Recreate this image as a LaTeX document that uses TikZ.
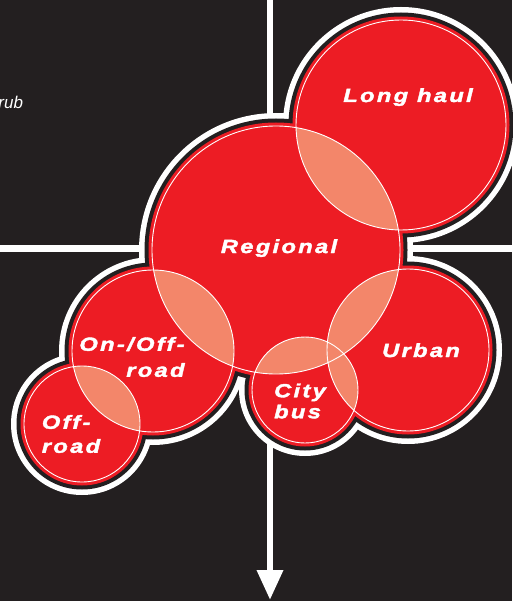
\documentclass[tikz,border=0pt]{standalone}
\usepackage{fontspec}
\setmainfont{Liberation Sans}
\newfontfamily\tagfont[LetterSpace=12, FakeStretch=1.25, FakeBold=2]{Liberation Sans Bold Italic}
\usetikzlibrary{arrows.meta}
\definecolor{board}{RGB}{35,31,32}
\definecolor{segred}{RGB}{237,28,36}
\definecolor{lensfill}{RGB}{243,134,106}
\def\lens(#1:#2)(#3:#4){\begin{scope}\clip (#1) circle (#2pt); \fill[lensfill] (#3) circle (#4pt);\end{scope}}
\tikzset{tag/.style={text=white, inner sep=0pt, font=\tagfont\fontsize{19}{26}\selectfont}}

\begin{document}
\begin{tikzpicture}[x=1pt, y=-1pt]
			%%%%% START %%%%%
			\useasboundingbox (0, 0) rectangle (512, 601);
			\fill[color=board] (0, 0) rectangle (512, 601);
			
			\coordinate (longhaul) at (401, 125);
			\coordinate (regional) at (276, 250);
			\coordinate (urban) at (408, 350);
			\coordinate (citybus) at (305, 390);
			\coordinate (onoff) at (153, 351);
			\coordinate (offroad) at (82, 424);
			
			\coordinate (xleft) at (0, 248.5);
			\coordinate (xright) at (512, 248.5);
			\coordinate (ytop) at (270, 0);
			\coordinate (ybottom) at (270, 600);
			
			\node[anchor=base east, text=white, font=\itshape\fontsize{17}{20}\selectfont] (rub) at (26.5, 109) {rub};
			
			\draw[line width=6.5pt, color=white] (xleft) -- (xright);
			\draw[line width=6.5pt, color=white, -{Triangle[width=25pt, length=30pt]}] (ytop) -- (ybottom);
			
			\fill[color=white] (longhaul) circle (118pt) (regional) circle (137pt) (urban) circle (94pt)
				(citybus) circle (66pt) (onoff) circle (94pt) (offroad) circle (71pt);
			\fill[color=board] (longhaul) circle (112.5pt) (regional) circle (131.5pt) (urban) circle (88.5pt)
				(citybus) circle (60.5pt) (onoff) circle (88.5pt) (offroad) circle (65.5pt);
			\fill[color=segred] (longhaul) circle (108.5pt) (regional) circle (127.5pt) (urban) circle (84.5pt)
				(citybus) circle (56.5pt) (onoff) circle (84.5pt) (offroad) circle (61.5pt);
			
			\lens(longhaul:105)(regional:124)
			\lens(regional:124)(urban:81)
			\lens(regional:124)(citybus:53)
			\lens(regional:124)(onoff:81)
			\lens(onoff:81)(offroad:58)
			\lens(citybus:53)(urban:81)
			
			\draw[line width=0.9pt, color=white] (longhaul) circle (105pt) (regional) circle (124pt) (urban) circle (81pt)
				(citybus) circle (53pt) (onoff) circle (81pt) (offroad) circle (58pt);
			
			\node[tag, anchor=base] (longhaultag) at (408, 102) {Long haul};
			\node[tag, anchor=base] (regionaltag) at (279, 253) {Regional};
			\node[tag, anchor=base] (urbantag) at (421, 357) {Urban};
			\node[tag, align=right] (onofftag) at (132, 357) {On-/Off-\\road};
			\node[tag, align=left] (offroadtag) at (71, 434) {Off-\\[-2pt]road};
			\node[tag, align=left, font=\tagfont\fontsize{19}{21}\selectfont] (citybustag) at (300, 401) {City\\bus};
			%%%%% END %%%%%
\end{tikzpicture}
\end{document}
